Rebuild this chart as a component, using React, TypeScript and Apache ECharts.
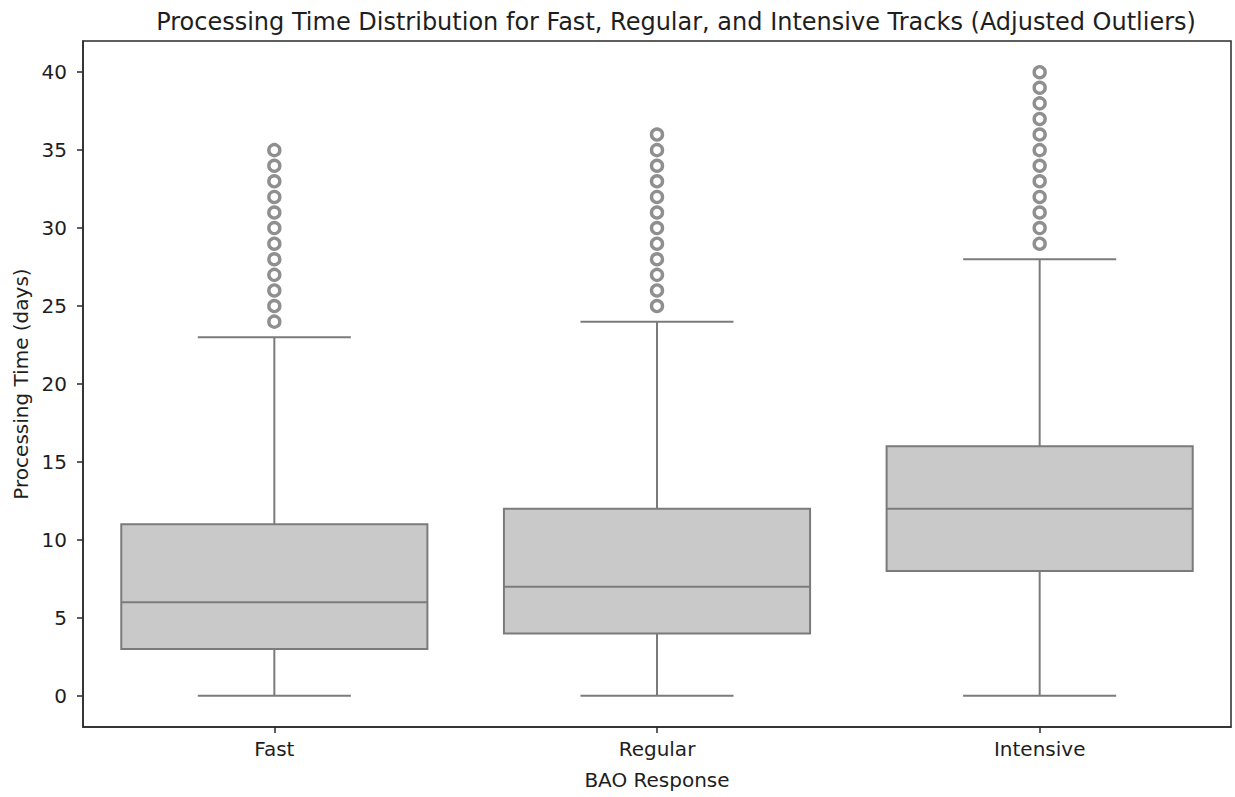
import React, { useEffect, useRef } from "react";
import * as echarts from "echarts";

// Track categories on the x axis
const categories = ["Fast", "Regular", "Intensive"];

// Five-number summaries per track: [lower whisker, Q1, median, Q3, upper whisker]
const fastStats = [0, 3, 6, 11, 23];
const regularStats = [0, 4, 7, 12, 24];
const intensiveStats = [0, 8, 12, 16, 28];

// Points beyond the upper whisker
const fastOutliers = [24, 25, 26, 27, 28, 29, 30, 31, 32, 33, 34, 35];
const regularOutliers = [25, 26, 27, 28, 29, 30, 31, 32, 33, 34, 35, 36];
const intensiveOutliers = [29, 30, 31, 32, 33, 34, 35, 36, 37, 38, 39, 40];

// Y-axis tick labels
const yTicks = [0, 5, 10, 15, 20, 25, 30, 35, 40];

const FONT = "'DejaVu Sans', sans-serif";
const TEXT = "#1e1e1e";
const AXIS = "#2a2a2a";
const LINE = "#7b7b7b";
const FILL = "#c9c9c9";

export default function App() {
  const ref = useRef<HTMLDivElement>(null);

  useEffect(() => {
    document.body.style.margin = "0";
    if (!ref.current) return;
    const chart = echarts.init(ref.current, null, { renderer: "svg" });

    const stats = [fastStats, regularStats, intensiveStats];
    const boxData = stats.map((s, i) => [i, ...s]);
    const outlierSets = [fastOutliers, regularOutliers, intensiveOutliers];
    const outlierData: number[][] = [];
    outlierSets.forEach((set, i) => set.forEach((v) => outlierData.push([i, v])));

    // Box with whiskers whose caps are half the box width
    const renderBox = (params: any, api: any) => {
      const idx = api.value(0);
      const lo = api.value(1);
      const q1 = api.value(2);
      const med = api.value(3);
      const q3 = api.value(4);
      const hi = api.value(5);
      const band = api.size([1, 0])[0];
      const half = band * 0.4;
      const capHalf = band * 0.2;
      const pLo = api.coord([idx, lo]);
      const pQ1 = api.coord([idx, q1]);
      const pMed = api.coord([idx, med]);
      const pQ3 = api.coord([idx, q3]);
      const pHi = api.coord([idx, hi]);
      const x = pLo[0];
      const ls = { stroke: LINE, lineWidth: 2 };
      return {
        type: "group",
        children: [
          { type: "line", shape: { x1: x, y1: pLo[1], x2: x, y2: pQ1[1] }, style: ls },
          { type: "line", shape: { x1: x, y1: pQ3[1], x2: x, y2: pHi[1] }, style: ls },
          { type: "line", shape: { x1: x - capHalf, y1: pLo[1], x2: x + capHalf, y2: pLo[1] }, style: ls },
          { type: "line", shape: { x1: x - capHalf, y1: pHi[1], x2: x + capHalf, y2: pHi[1] }, style: ls },
          {
            type: "rect",
            shape: { x: x - half, y: pQ3[1], width: half * 2, height: pQ1[1] - pQ3[1] },
            style: { fill: FILL, stroke: LINE, lineWidth: 2 },
          },
          { type: "line", shape: { x1: x - half, y1: pMed[1], x2: x + half, y2: pMed[1] }, style: ls },
        ],
      };
    };

    chart.setOption({
      animation: false,
      backgroundColor: "#ffffff",
      title: {
        text: "Processing Time Distribution for Fast, Regular, and Intensive Tracks (Adjusted Outliers)",
        left: 671,
        top: 5,
        textAlign: "center",
        textStyle: { fontFamily: FONT, fontSize: 24, fontWeight: "normal", color: TEXT },
      },
      grid: {
        left: 83,
        right: 4,
        top: 41,
        bottom: 70,
        show: true,
        borderColor: AXIS,
        borderWidth: 1.5,
        backgroundColor: "transparent",
      },
      xAxis: {
        type: "category",
        data: categories,
        boundaryGap: true,
        name: "BAO Response",
        nameLocation: "middle",
        nameGap: 43,
        nameTextStyle: { fontFamily: FONT, fontSize: 20, color: TEXT },
        axisLine: { show: true, onZero: false, lineStyle: { color: AXIS, width: 1.5 } },
        axisTick: { show: true, alignWithLabel: true, length: 6, lineStyle: { color: AXIS, width: 1.5 } },
        axisLabel: { fontFamily: FONT, fontSize: 20, color: TEXT, margin: 12 },
        splitLine: { show: false },
      },
      yAxis: {
        type: "value",
        min: -2,
        max: 42,
        name: "Processing Time (days)",
        nameLocation: "middle",
        nameGap: 51,
        nameRotate: 90,
        nameTextStyle: { fontFamily: FONT, fontSize: 20, color: TEXT },
        axisLine: { show: true, onZero: false, lineStyle: { color: AXIS, width: 1.5 } },
        axisTick: {
          show: true,
          length: 6,
          customValues: yTicks,
          lineStyle: { color: AXIS, width: 1.5 },
        },
        axisLabel: {
          fontFamily: FONT,
          fontSize: 20,
          color: TEXT,
          margin: 16,
          customValues: yTicks,
        },
        splitLine: { show: false },
      },
      series: [
        {
          type: "custom",
          renderItem: renderBox,
          data: boxData,
          encode: { x: 0, y: [1, 2, 3, 4, 5] },
          z: 2,
        },
        {
          type: "scatter",
          data: outlierData,
          symbol: "circle",
          symbolSize: 11,
          itemStyle: { color: "#ffffff", borderColor: "#737373", borderWidth: 3.4 },
          z: 3,
        },
      ],
    });

    return () => chart.dispose();
  }, []);

  return <div ref={ref} style={{ width: 1235, height: 797 }} />;
}
